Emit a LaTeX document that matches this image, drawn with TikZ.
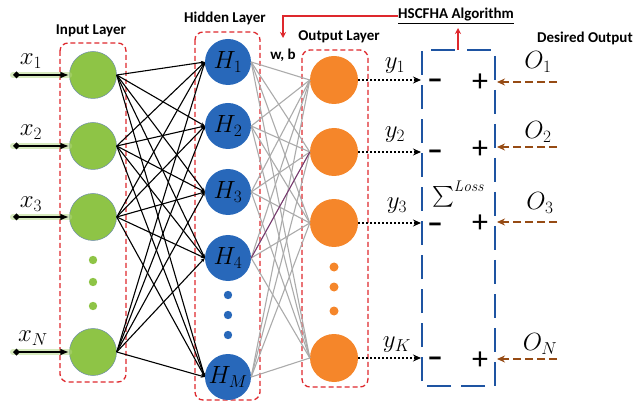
\documentclass[tikz,border=0pt]{standalone}
\usepackage{amsmath}
\usepackage{fontspec}
\setsansfont{Carlito}
\usetikzlibrary{arrows.meta}
\definecolor{ingreen}{RGB}{142,196,70}
\definecolor{inedge}{RGB}{110,140,170}
\definecolor{hidblue}{RGB}{40,104,186}
\definecolor{outorange}{RGB}{245,134,42}
\definecolor{boxred}{RGB}{222,40,45}
\definecolor{lossblue}{RGB}{30,84,162}
\definecolor{desbrown}{RGB}{150,75,20}
\definecolor{purpline}{RGB}{120,50,110}
\begin{document}
\begin{tikzpicture}[x=1pt,y=-1pt,
  lbl/.style={font=\sffamily\bfseries\fontsize{15}{17}\selectfont,inner sep=0pt},
  mlbl/.style={font=\fontsize{25}{25}\selectfont,inner sep=0pt},
  inode/.style={circle,fill=ingreen,draw=inedge,line width=0.5pt,minimum size=47pt,inner sep=0pt},
  hnode/.style={circle,fill=hidblue,minimum size=46pt,inner sep=0pt,font=\fontsize{24}{24}\selectfont},
  onode/.style={circle,fill=outorange,minimum size=48pt,inner sep=0pt},
  layerbox/.style={draw=boxred,line width=1.3pt,rounded corners=8pt,dash pattern=on 5pt off 3pt},
  glow/.style={line width=6pt,ingreen!70,opacity=0.5,line cap=round},
  inarrow/.style={line width=2.2pt,{Diamond[length=7pt,width=7pt]}-{Latex[length=9pt,width=7pt]}},
  ihlink/.style={line width=1.1pt,black,-{Stealth[length=4pt,width=3.5pt]}},
  holink/.style={line width=1.1pt,black!33},
  dotarrow/.style={line width=2pt,dash pattern=on 2pt off 2pt,-{Stealth[length=8pt,width=7pt]}},
  brownarrow/.style={line width=2.2pt,desbrown,dash pattern=on 8pt off 4pt,-{Stealth[length=8pt,width=7pt]}},
  lossbox/.style={line width=2.6pt,lossblue,dash pattern=on 24pt off 10pt},
  minus/.style={font=\sffamily\bfseries\fontsize{32}{32}\selectfont,inner sep=0pt},
  plus/.style={font=\sffamily\fontsize{32}{32}\selectfont,inner sep=0pt},
  redarrow/.style={line width=1.6pt,boxred,-{Stealth[length=6pt,width=6pt]}}
]
\useasboundingbox (0,0) rectangle (634,403);

% layer boxes
\draw[layerbox] (60,43) rectangle (126,382);
\draw[layerbox] (195,32) rectangle (260,400);
\draw[layerbox] (302,50) rectangle (368,387);

% input nodes
\node[inode] (i1) at (93,75) {};
\node[inode] (i2) at (93,146) {};
\node[inode] (i3) at (93,217) {};
\node[inode] (iN) at (93,352) {};
\fill[ingreen] (93,260) circle (4.2);
\fill[ingreen] (93,282) circle (4.2);
\fill[ingreen] (93,306) circle (4.2);

% hidden nodes
\node[hnode] (h1) at (228,62) {$H_1$};
\node[hnode] (h2) at (228,126) {$H_2$};
\node[hnode] (h3) at (228,192) {$H_3$};
\node[hnode] (h4) at (228,258) {$H_4$};
\node[hnode] (hM) at (228,377) {$H_M$};
\fill[hidblue] (228,295) circle (4.2);
\fill[hidblue] (228,315) circle (4.2);
\fill[hidblue] (228,335) circle (4.2);

% output nodes
\node[onode] (o1) at (334,80) {};
\node[onode] (o2) at (334,152) {};
\node[onode] (o3) at (334,223) {};
\node[onode] (oK) at (334,358) {};
\fill[outorange] (334,267) circle (4.5);
\fill[outorange] (334,287) circle (4.5);
\fill[outorange] (334,311) circle (4.5);

% input -> hidden links
\foreach \a in {i1,i2,i3,iN}
  \foreach \b in {h1,h2,h3,h4,hM}
    \draw[ihlink] (\a.east) -- (\b.west);

% hidden -> output links
\foreach \a in {h1,h2,h3,h4,hM}
  \foreach \b in {o1,o2,o3,oK}
    \draw[holink] (\a.east) -- (\b.west);
\draw[line width=0.9pt,purpline] (h4.east) -- (o2.west);

% input arrows
\coordinate (s1) at (13,75);
\coordinate (s2) at (13,146);
\coordinate (s3) at (13,217);
\coordinate (sN) at (13,352);
\foreach \s/\t in {s1/i1,s2/i2,s3/i3,sN/iN} {
  \draw[glow] (\s) -- (\t.west);
  \draw[inarrow] (\s) -- (\t.west);
}
\node[mlbl] (x1) at (31,61) {$x_1$};
\node[mlbl] (x2) at (31,132) {$x_2$};
\node[mlbl] (x3) at (31,204) {$x_3$};
\node[mlbl] (xN) at (33,338) {$x_N$};

% layer labels
\node[lbl] (inl) at (91,31) {Input Layer};
\node[lbl] (hidl) at (225,18) {Hidden Layer};
\node[lbl] (outl) at (339,37) {Output Layer};
\node[lbl] (wb) at (283,55) {w, b};
\node[lbl,anchor=west] (desl) at (537,38) {Desired Output};
\node[lbl] (alg) at (456,16) {\underline{HSCFHA Algorithm}};

% loss box
\draw[lossbox] (467,50) -- (495,50) -- (495,386) -- (422,386) -- (422,50) -- (456,50);

% red arrows
\coordinate (wbtip) at (283,38);
\draw[redarrow] (alg.west) -| (wbtip);
\coordinate (boxtop) at (458,50);
\coordinate (algbot) at (458,28);
\draw[redarrow] (boxtop) -- (algbot);

% output dotted arrows
\coordinate (d1) at (421,80);
\coordinate (d2) at (421,152);
\coordinate (d3) at (421,223);
\coordinate (dK) at (421,358);
\foreach \o/\d in {o1/d1,o2/d2,o3/d3,oK/dK}
  \draw[dotarrow] (\o.east) -- (\d);
\node[mlbl] (y1) at (395,66) {$y_1$};
\node[mlbl] (y2) at (395,135) {$y_2$};
\node[mlbl] (y3) at (397,206) {$y_3$};
\node[mlbl] (yK) at (397,345) {$y_K$};

% plus / minus
\node[minus] (m1) at (435,84) {–};
\node[minus] (m2) at (435,155) {–};
\node[minus] (m3) at (435,228) {–};
\node[minus] (mK) at (435,362) {–};
\node[plus] (p1) at (480,83) {+};
\node[plus] (p2) at (480,150) {+};
\node[plus] (p3) at (480,224) {+};
\node[plus] (pK) at (480,361) {+};
\node[font=\fontsize{22}{22}\selectfont,inner sep=0pt] (sum) at (458,194) {$\sum^{\mathit{Loss}}$};

% desired outputs
\coordinate (b1) at (557,82);
\coordinate (b2) at (557,147);
\coordinate (b3) at (557,222);
\coordinate (bN) at (557,359);
\coordinate (e1) at (497,82);
\coordinate (e2) at (497,147);
\coordinate (e3) at (497,222);
\coordinate (eN) at (497,359);
\foreach \b/\e in {b1/e1,b2/e2,b3/e3,bN/eN}
  \draw[brownarrow] (\b) -- (\e);
\node[mlbl] (O1) at (538,62) {$O_1$};
\node[mlbl] (O2) at (538,132) {$O_2$};
\node[mlbl] (O3) at (540,203) {$O_3$};
\node[mlbl] (ON) at (540,344) {$O_N$};
\end{tikzpicture}
\end{document}
